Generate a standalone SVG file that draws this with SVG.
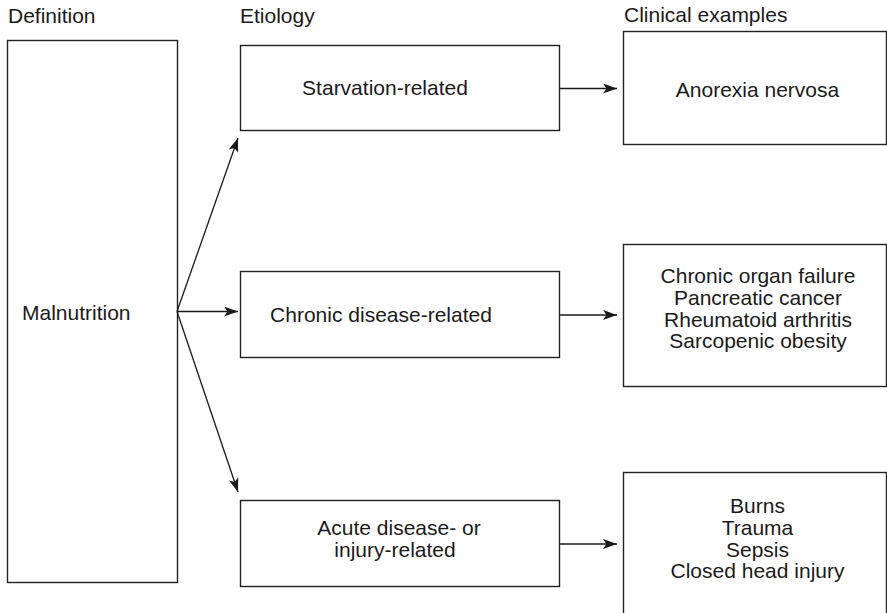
<svg xmlns="http://www.w3.org/2000/svg" width="887" height="613" viewBox="0 0 887 613">
<style>
.box{fill:#fff;stroke:#222;stroke-width:1.4}
.t{font-family:"Liberation Sans",Arial,sans-serif;font-size:21px;fill:#1a1a1a}
.c{text-anchor:middle}
.ln{stroke:#1a1a1a;stroke-width:1.3;fill:none;marker-end:url(#ah)}
</style>
<defs>
<marker id="ah" viewBox="0 0 14 10" refX="14" refY="5" markerWidth="15" markerHeight="10" markerUnits="userSpaceOnUse" orient="auto">
<path d="M0,0 L14,5 L0,10 L3.5,5 Z" fill="#1a1a1a"/>
</marker>
</defs>
<rect width="887" height="613" fill="#fff"/>
<g id="headers">
<text class="t" x="8" y="23">Definition</text>
<text class="t" x="240" y="23">Etiology</text>
<text class="t" x="624" y="22">Clinical examples</text>
</g>
<g id="malnutrition">
<rect class="box" x="7.5" y="40.5" width="170" height="542"/>
<text class="t" x="22" y="320">Malnutrition</text>
</g>
<g id="starvation">
<rect class="box" x="240.5" y="45.5" width="319" height="85"/>
<text class="t c" x="385" y="95">Starvation-related</text>
</g>
<g id="chronic">
<rect class="box" x="240.5" y="271.5" width="319" height="86"/>
<text class="t c" x="381" y="322">Chronic disease-related</text>
</g>
<g id="acute">
<rect class="box" x="240.5" y="500.5" width="319" height="86"/>
<text class="t c" x="399" y="535">Acute disease- or</text>
<text class="t c" x="395" y="557">injury-related</text>
</g>
<g id="anorexia">
<rect class="box" x="623.5" y="31.5" width="263" height="113"/>
<text class="t c" x="757.5" y="97">Anorexia nervosa</text>
</g>
<g id="chronic-examples">
<rect class="box" x="623.5" y="244.5" width="263" height="142"/>
<text class="t c" x="758" y="283">Chronic organ failure</text>
<text class="t c" x="758" y="305">Pancreatic cancer</text>
<text class="t c" x="758" y="327">Rheumatoid arthritis</text>
<text class="t c" x="758" y="348">Sarcopenic obesity</text>
</g>
<g id="acute-examples">
<rect class="box" x="623.5" y="472.5" width="263" height="150"/>
<text class="t c" x="757.5" y="513">Burns</text>
<text class="t c" x="757.5" y="535">Trauma</text>
<text class="t c" x="757.5" y="557">Sepsis</text>
<text class="t c" x="757.5" y="578">Closed head injury</text>
</g>
<g id="connectors">
<line class="ln" x1="177" y1="311.5" x2="238" y2="138"/>
<line class="ln" x1="177" y1="311.5" x2="238" y2="311.5"/>
<line class="ln" x1="177" y1="311.5" x2="238" y2="492"/>
<line class="ln" x1="560" y1="88.5" x2="617" y2="88.5"/>
<line class="ln" x1="560" y1="315" x2="617" y2="315"/>
<line class="ln" x1="560" y1="544" x2="617" y2="544"/>
</g>
</svg>
